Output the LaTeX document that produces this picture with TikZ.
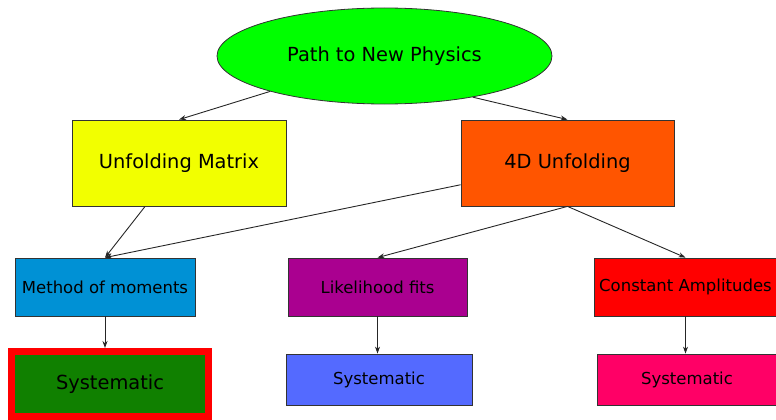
\documentclass[tikz,border=0pt]{standalone}
\usepackage{fontspec}
\setmainfont{DejaVu Sans}
\usetikzlibrary{shapes.geometric, arrows.meta}

\definecolor{physgreen}{RGB}{0,255,0}
\definecolor{unfyellow}{RGB}{242,255,0}
\definecolor{unforange}{RGB}{255,85,0}
\definecolor{momblue}{RGB}{0,145,213}
\definecolor{likepurple}{RGB}{170,0,144}
\definecolor{sysgreen}{RGB}{16,128,0}
\definecolor{sysblue}{RGB}{84,106,255}
\definecolor{syspink}{RGB}{255,0,102}

\tikzset{
  box/.style = {draw = black!80, line width = 0.8pt, inner sep = 0pt,
    font = \fontsize{16.5}{20}\selectfont},
  big box/.style = {box, font = \fontsize{19.4}{23}\selectfont},
  link/.style = {->, line width = 0.9pt, black!85},
}

\begin{document}
\begin{tikzpicture}[x = 1pt, y = -1pt, >={Stealth[length = 7pt, width = 5pt]}]
\useasboundingbox (0,0) rectangle (776,420);

\node [ellipse, big box, fill = physgreen, minimum width = 335pt, minimum height = 96pt] (path) at (384.5,56) {Path to New Physics};

\node [big box, fill = unfyellow, minimum width = 214pt, minimum height = 86pt] (unf matrix) at (179,163) {Unfolding Matrix};
\node [big box, fill = unforange, minimum width = 213pt, minimum height = 86pt] (unf 4d) at (567.5,163) {4D Unfolding};

\node [box, fill = momblue, minimum width = 180pt, minimum height = 58pt] (moments) at (105,287) {Method of moments};
\node [box, fill = likepurple, minimum width = 179pt, minimum height = 58pt] (likelihood) at (377.5,287) {Likelihood fits};
\node [box, fill = red, minimum width = 183pt, minimum height = 58pt] (amplitudes) at (685.5,287) {Constant Amplitudes};

\node [big box, fill = sysgreen, draw = red, line width = 7pt, minimum width = 197pt, minimum height = 65pt] (syst moments) at (110,384) {Systematic};
\node [box, fill = sysblue, minimum width = 186pt, minimum height = 51pt] (syst likelihood) at (379,379.5) {Systematic};
\node [box, fill = syspink, minimum width = 180pt, minimum height = 51pt] (syst amplitudes) at (687,379.5) {Systematic};

\draw [link] (path) -- (unf matrix.north);
\draw [link] (path.-25) -- (unf 4d.north);
\draw [link] (unf matrix) -- (moments.north);
\draw [link] (unf 4d) -- (moments.north);
\draw [link] (unf 4d.south) -- (likelihood.north);
\draw [link] (unf 4d.south) -- (amplitudes.north);
\draw [link] (moments) -- (moments |- syst moments.north);
\draw [link] (likelihood) -- (likelihood |- syst likelihood.north);
\draw [link] (amplitudes) -- (amplitudes |- syst amplitudes.north);
\end{tikzpicture}
\end{document}
